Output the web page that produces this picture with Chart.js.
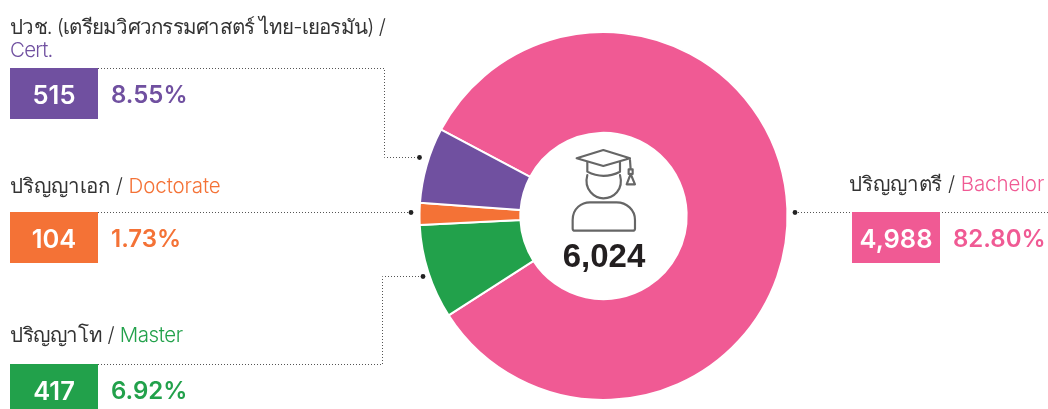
<!DOCTYPE html>
<html lang="th">
<head>
<meta charset="utf-8">
<title>Students by degree</title>
<script src="https://cdn.jsdelivr.net/npm/chart.js@4/dist/chart.umd.min.js"></script>
<style>
html,body{margin:0;padding:0;background:#fff;width:1048px;height:409px;overflow:hidden}
#wrap{position:relative;width:1048px;height:409px;font-family:"Liberation Sans","Noto Sans",sans-serif}
#wrap canvas{position:absolute;left:0;top:0}
svg{position:absolute;left:0;top:0}
.t{position:absolute;font-family:"Inter","Noto Sans",sans-serif;font-weight:300;font-size:20.5px;line-height:23px;color:#333;white-space:nowrap;letter-spacing:-.1px}
.b{position:absolute;width:88px;height:51px;overflow:hidden;color:#fff;font:600 25.5px/54px "Inter","Liberation Sans",sans-serif;text-align:center}
.p{position:absolute;font:600 24px/54px "Inter","Liberation Sans",sans-serif;white-space:nowrap}
#total{position:absolute;left:504px;width:200px;top:236px;text-align:center;font:700 33px/40px "Liberation Sans",sans-serif;color:#231f20}
</style>
</head>
<body>
<div id="wrap">
<canvas id="c" width="1048" height="409"></canvas>
<svg width="1048" height="409" viewBox="0 0 1048 409" fill="none">
  <g stroke="#555" stroke-width="1" stroke-dasharray="1 2">
    <path d="M98 68.5H384.5V157.5H419"/>
    <path d="M98 212.5H411"/>
    <path d="M98 364.5H382.5V276.500H423"/>
    <path d="M795 212.5H1048"/>
  </g>
  <g fill="#222"><circle cx="419.500" cy="157.500" r="2.400"/><circle cx="411" cy="212.500" r="2.400"/><circle cx="423" cy="276.500" r="2.400"/><circle cx="795" cy="212.500" r="2.400"/></g>
  <g transform="translate(500 130) scale(.3333)" stroke="#666" stroke-width="6.500" stroke-linejoin="round" stroke-linecap="round">
    <path d="M230 85L310 60L390 85L310 108Z"/>
    <path d="M262 97V125Q310 150 360 125V97"/>
    <path d="M262 135C250 180 285 205 310 205C340 205 372 180 360 135"/>
    <path d="M218 296V270C218 235 245 217 270 217H350C380 217 405 240 405 270V296Q405 302 398 302H225Q218 302 218 296Z"/>
    <path d="M390 90L392 118M386 118H398V132H386ZM392 132L380 163H405Z"/>
  </g>
</svg>
<div id="labels"></div>
<div id="total"></div>
</div>
<script>
const categories = ["ปริญญาตรี", "ปริญญาโท", "ปริญญาเอก", "ปวช. (เตรียมวิศวกรรมศาสตร์ ไทย-เยอรมัน)"];
const englishNames = ["Bachelor", "Master", "Doctorate", "Cert."];
const students = [4988, 417, 104, 515];
const percentLabels = ["82.80%", "6.92%", "1.73%", "8.55%"];
// Slice sizes as drawn in the picture: the reference's green and purple wedges
// do not follow their printed numbers, so the drawn sizes are kept separately.
const drawnSliceSizes = [5008, 500, 115, 400];
const sliceColors = ["#f05a94", "#22a14b", "#f47236", "#7050a0"];
const totalLabel = "6,024";

const titleTops = [172, 323, 174, 15];
const titleLefts = [849, 10, 10, 10];
const titleSpacing = [-0.1, -0.4, -0.1, -0.75];
const boxTops = [212, 364, 212, 68];
const boxLefts = [852, 10, 10, 10];
const percentLefts = [953, 111, 111, 111];

new Chart(document.getElementById("c"), {
  type: "doughnut",
  data: { labels: categories, datasets: [{ data: drawnSliceSizes, backgroundColor: sliceColors, borderColor: "#fff", borderWidth: 2 }] },
  options: {
    responsive: false, animation: false, rotation: -62, cutout: "45.2%",
    layout: { padding: { left: 418.5, right: 259.5, top: 31, bottom: 8 } },
    plugins: { legend: { display: false }, tooltip: { enabled: false } }
  }
});

const host = document.getElementById("labels");
categories.forEach((name, i) => {
  const t = document.createElement("div");
  t.className = "t"; t.style.left = titleLefts[i] + "px"; t.style.top = titleTops[i] + "px";
  t.style.letterSpacing = titleSpacing[i] + "px";
  const en = document.createElement("span"); en.style.color = sliceColors[i]; en.textContent = englishNames[i];
  t.append(name + " / ");
  if (i === 3) t.append(document.createElement("br"));
  t.append(en);
  const b = document.createElement("div");
  b.className = "b"; b.style.left = boxLefts[i] + "px"; b.style.top = boxTops[i] + "px";
  b.style.background = sliceColors[i]; b.textContent = students[i].toLocaleString("en-US");
  const p = document.createElement("div");
  p.className = "p"; p.style.left = percentLefts[i] + "px"; p.style.top = boxTops[i] + "px";
  p.style.color = sliceColors[i]; p.textContent = percentLabels[i];
  host.append(t, b, p);
});
document.getElementById("total").textContent = totalLabel;
</script>
</body>
</html>
